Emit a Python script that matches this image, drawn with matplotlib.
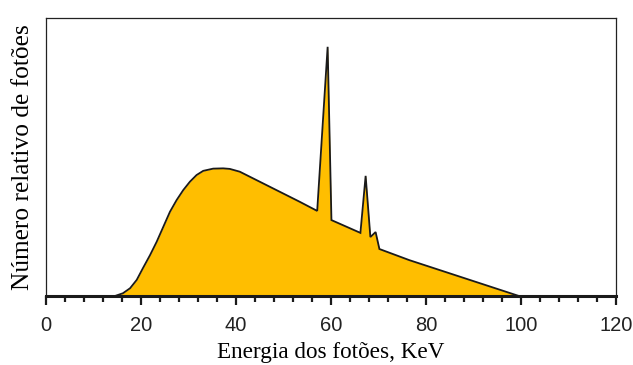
import numpy as np
import matplotlib.pyplot as plt
from matplotlib.ticker import MultipleLocator

# espectro de raios X (escala relativa 0-100)
energia = [0, 14.5, 16.2, 17.7, 19.1, 20.4, 21.9, 23.3, 24.7, 26.1, 27.5,
           28.9, 30.3, 31.7, 33.1, 35.2, 37.3, 38.7, 40.8, 42.9, 46.4, 49.9,
           53.4, 57.1, 59.3, 60.1, 66.2, 67.3, 68.3, 69.4, 70.2, 76.5, 99.6,
           120]
fotoes = [0, 0, 1.0, 2.8, 5.8, 10.0, 14.7, 19.5, 24.9, 30.3, 34.5,
          38.1, 41.1, 43.5, 45.0, 45.8, 45.9, 45.7, 44.7, 42.9, 39.9, 36.9,
          33.9, 30.6, 89.6, 27.3, 22.7, 43.2, 21.2, 23.0, 16.9, 12.9, 0,
          0]

fig = plt.figure(figsize=(6.33, 3.65), dpi=100)
ax = fig.add_axes([0.0727, 0.189, 0.9003, 0.762])

ax.fill_between(energia, fotoes, 0, color='#FFBE00', lw=0)
ax.plot(energia, fotoes, color='#1a1a1a', lw=1.3, solid_joinstyle='miter')

ax.set_xlim(0, 120)
ax.set_ylim(0, 100)
ax.xaxis.set_major_locator(MultipleLocator(20))
ax.xaxis.set_minor_locator(MultipleLocator(4))
ax.tick_params(axis='x', which='major', direction='out', length=6.5, width=1.6,
               color='#1a1a1a', labelsize=14.5, pad=8)
ax.tick_params(axis='x', which='minor', direction='out', length=4.5, width=1.6,
               color='#1a1a1a')
ax.set_yticks([])
for lab in ax.get_xticklabels():
    lab.set_fontfamily('Liberation Sans')
    lab.set_color('#222222')

for s in ['left', 'top', 'right']:
    ax.spines[s].set_linewidth(0.9)
    ax.spines[s].set_color('#222222')
ax.spines['bottom'].set_linewidth(2.2)
ax.spines['bottom'].set_color('#1a1a1a')

ax.set_xlabel('Energia dos fotões, KeV', fontfamily='Liberation Serif',
              fontsize=16.7, labelpad=5)
ax.set_ylabel('Número relativo de fotões', fontfamily='Liberation Serif',
              fontsize=18.3, labelpad=9)

fig.savefig('out.png', dpi=100)
